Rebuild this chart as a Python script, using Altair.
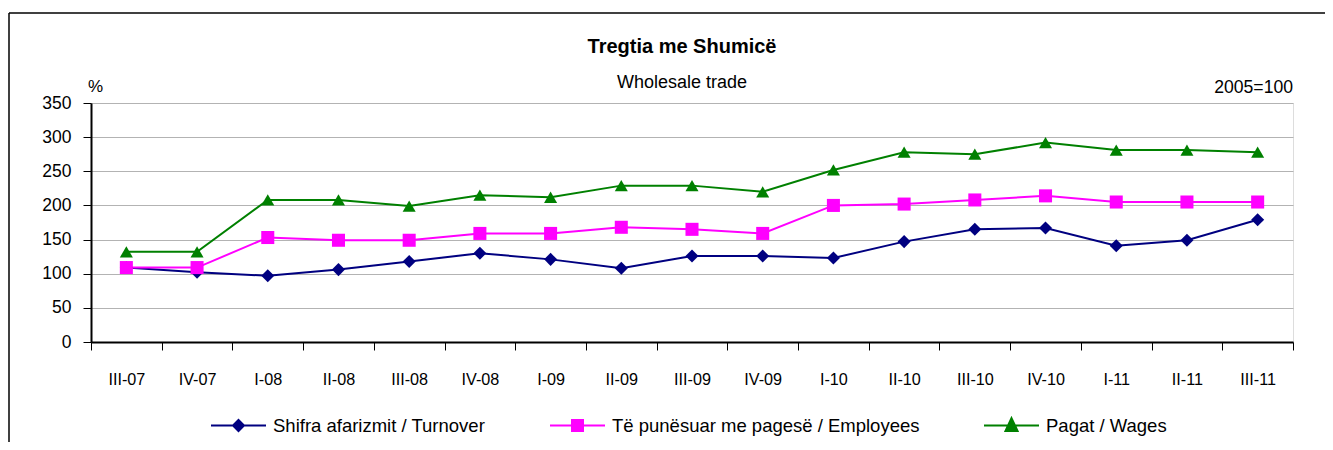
import altair as alt
import pandas as pd

quarters = ["III-07", "IV-07", "I-08", "II-08", "III-08", "IV-08", "I-09", "II-09",
            "III-09", "IV-09", "I-10", "II-10", "III-10", "IV-10", "I-11", "II-11", "III-11"]
turnover = [109, 102, 97, 106, 118, 130, 121, 108, 126, 126, 123, 147, 165, 167, 141, 149, 179]
employees = [109, 109, 153, 149, 149, 159, 159, 168, 165, 159, 200, 202, 208, 214, 205, 205, 205]
wages = [132, 132, 208, 208, 199, 215, 212, 229, 229, 220, 252, 278, 275, 292, 281, 281, 278]
series_names = ["Shifra afarizmit / Turnover", "Të punësuar me pagesë / Employees", "Pagat / Wages"]
y_ticks = [0, 50, 100, 150, 200, 250, 300, 350]

rows = []
for name, vals in zip(series_names, [turnover, employees, wages]):
    for q, v in zip(quarters, vals):
        rows.append({"quarter": q, "value": v, "series": name})
df = pd.DataFrame(rows)

W, H = 1202, 239
FONT = "Liberation Sans"
colors = ["#000080", "#FF00FF", "#008000"]
shapes = ["diamond", "square", "triangle-up"]
legend_paths = [
    "M-1,0H1M0,-0.2L0.2,0L0,0.2L-0.2,0Z",
    "M-1,0H1M-0.2,-0.2H0.2V0.2H-0.2Z",
    "M-1,0H1M0,-0.27L0.22,0.2L-0.22,0.2Z",
]

x_enc = alt.X(
    "quarter:N", sort=quarters, title=None,
    scale=alt.Scale(type="band", paddingInner=0, paddingOuter=0),
    axis=alt.Axis(labelAngle=0, tickBand="extent", tickSize=8, labelPadding=21,
                  domainColor="black", domainWidth=2, tickColor="black", tickWidth=1,
                  labelFont=FONT, labelFontSize=16.2, labelColor="black", grid=False),
)
y_enc = alt.Y(
    "value:Q", title=None,
    scale=alt.Scale(domain=[0, 350], nice=False),
    axis=alt.Axis(values=y_ticks, tickSize=8, labelPadding=12, domainColor="black",
                  domainWidth=2, tickColor="black", tickWidth=1, labelFont=FONT,
                  labelFontSize=17.5, labelColor="black", gridColor="#b3b3b3", gridWidth=1),
)
color_scale = alt.Scale(domain=series_names, range=colors)

base = alt.Chart(df)
line_layers = [
    base.transform_filter(alt.datum.series == name).mark_line(strokeWidth=2, color=col)
    .encode(x=x_enc, y=y_enc)
    for name, col in zip(series_names, colors)
]
point_layers = [
    base.transform_filter(alt.datum.series == name).mark_point(
        filled=True, size=170, opacity=1, shape=shp, color=col
    ).encode(x=x_enc, y=y_enc)
    for name, shp, col in zip(series_names, shapes, colors)
]
leg = alt.Legend(
    title=None, orient="none", legendX=119, legendY=294, direction="horizontal", columns=3,
    columnPadding=60, symbolSize=3025, symbolStrokeWidth=2, symbolOpacity=1,
    symbolFillColor="black",
    labelFont=FONT, labelFontSize=18.5, labelColor="black", labelOffset=6, labelLimit=600,
)
legend_layer = base.mark_point(opacity=0, filled=True).encode(
    x=x_enc, y=y_enc,
    fill=alt.Fill("series:N", scale=color_scale, legend=leg),
    stroke=alt.Stroke("series:N", scale=color_scale, legend=leg),
    shape=alt.Shape("series:N", scale=alt.Scale(domain=series_names, range=legend_paths), legend=leg),
)

one = pd.DataFrame({"k": [0]})


def label(text, x, y, size, align, weight="normal"):
    return alt.Chart(one).mark_text(
        text=text, font=FONT, fontSize=size, fontWeight=weight, align=align,
        baseline="alphabetic", color="black",
    ).encode(x=alt.value(x), y=alt.value(y))


title = label("Tregtia me Shumicë", 591, -50, 20, "center", "bold")
subtitle = label("Wholesale trade", 591, -15, 18, "center")
pct = label("%", -3, -11, 17, "left")
base_note = label("2005=100", W, -10, 17.6, "right")

frame_top = alt.Chart(one).mark_rule(color="black", strokeWidth=1.5).encode(
    x=alt.value(-82), x2=alt.value(W + 40), y=alt.value(-90))
frame_left = alt.Chart(one).mark_rule(color="black", strokeWidth=1.5).encode(
    x=alt.value(-82), y=alt.value(-90), y2=alt.value(H + 110))

chart = alt.layer(
    frame_top, frame_left, *line_layers, *point_layers, legend_layer,
    title, subtitle, pct, base_note
).properties(
    width=W, height=H,
    autosize=alt.AutoSizeParams(type="none"),
    padding={"left": 83, "top": 95, "right": 32, "bottom": 100},
).configure_view(stroke="black", strokeWidth=2).configure(background="white")

chart.save("out.html", embed_options={"renderer": "svg", "actions": False})
